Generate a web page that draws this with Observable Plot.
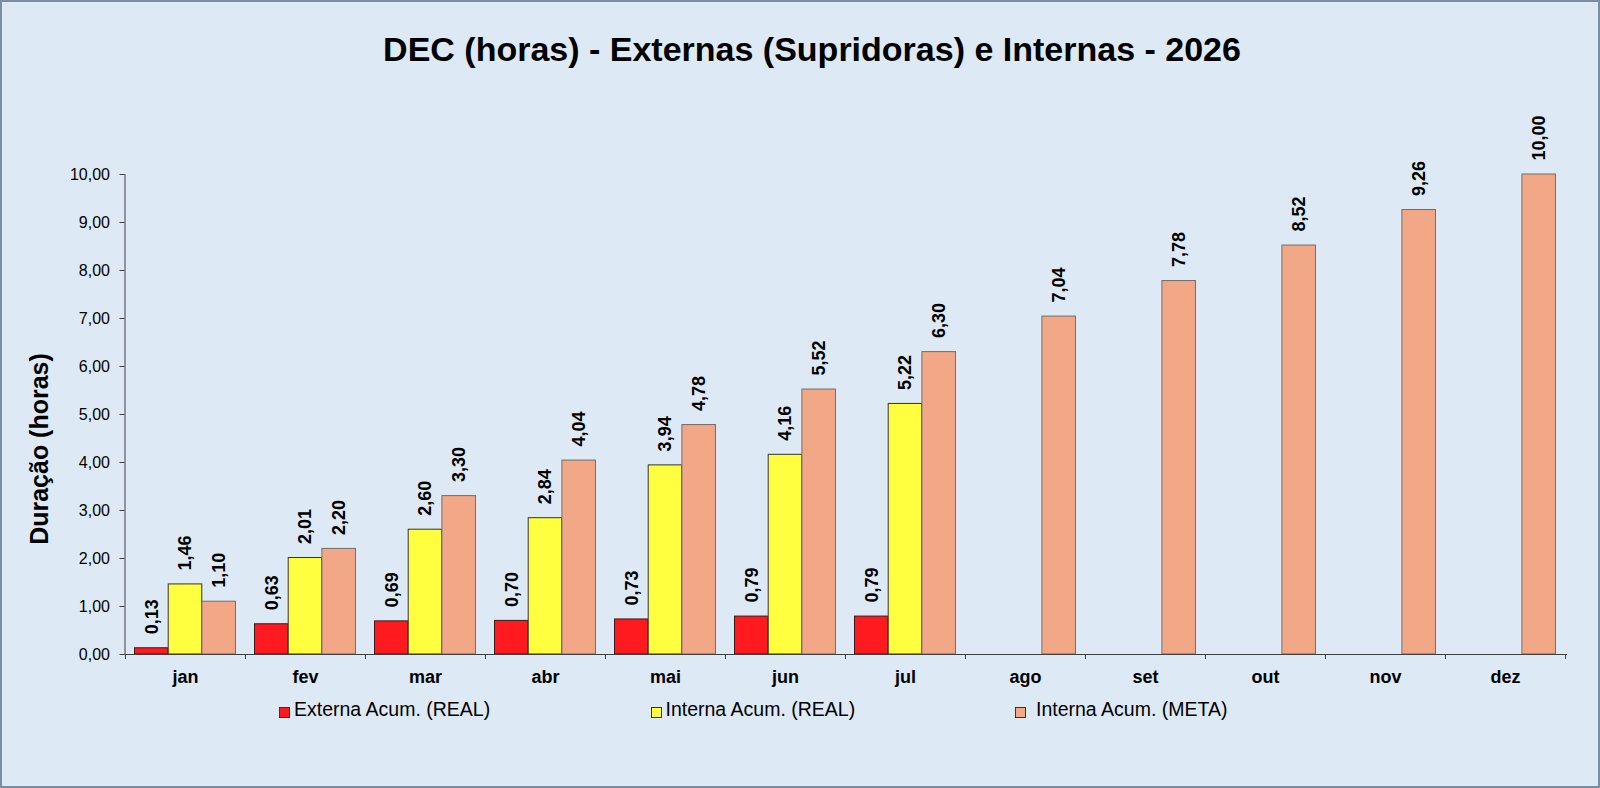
<!DOCTYPE html>
<html><head><meta charset="utf-8">
<script src="https://cdn.jsdelivr.net/npm/d3@7"></script>
<script src="https://cdn.jsdelivr.net/npm/@observablehq/plot@0.6"></script>
<style>
html,body{margin:0;padding:0;background:#dde9f5;}
#wrap{position:relative;width:1600px;height:788px;background:#dde9f5;box-shadow:inset 0 0 0 2px #7d8ea0;overflow:hidden;font-family:"Liberation Sans",Arial,sans-serif;color:#000;}
#title{position:absolute;left:812px;top:32px;transform:translateX(-50%);white-space:nowrap;font-size:34px;line-height:34px;font-weight:bold;}
#ytitle{position:absolute;left:38.5px;top:449px;width:320px;text-align:center;font-size:25px;line-height:25px;font-weight:bold;white-space:nowrap;transform:translate(-50%,-50%) rotate(-90deg);}
#chart{position:absolute;left:0;top:110px;}
.sw{position:absolute;width:9px;height:9px;top:707px;border:1px solid #333;box-sizing:content-box;}
.lt{position:absolute;top:700px;font-size:19.5px;line-height:19.5px;white-space:nowrap;}
</style>
</head><body>
<div id="wrap">
  <div id="title"></div>
  <div id="ytitle"></div>
  <div id="chart"></div>
  <div id="legend"></div>
</div>
<script>
const months = ["jan","fev","mar","abr","mai","jun","jul","ago","set","out","nov","dez"];
const seriesNames = ["Externa Acum. (REAL)", "Interna Acum. (REAL)", "Interna Acum. (META)"];
const externaReal = [0.13, 0.63, 0.69, 0.70, 0.73, 0.79, 0.79, null, null, null, null, null];
const internaReal = [1.46, 2.01, 2.60, 2.84, 3.94, 4.16, 5.22, null, null, null, null, null];
const internaMeta = [1.10, 2.20, 3.30, 4.04, 4.78, 5.52, 6.30, 7.04, 7.78, 8.52, 9.26, 10.00];
const yTicks = [0,1,2,3,4,5,6,7,8,9,10];
const titleText = "DEC (horas) - Externas (Supridoras) e Internas - 2026";
const yLabel = "Duração (horas)";

const colors = ["#ff1a1f", "#ffff40", "#f2a886"];
const strokes = ["#3a1a1a", "#333333", "#6e6e6e"];

document.getElementById("title").textContent = titleText;
document.getElementById("ytitle").textContent = yLabel;

const fmt = v => v.toFixed(2).replace(".", ",");
const rows = (arr) => months.map((m, i) => ({month: m, value: arr[i]})).filter(d => d.value != null);
const seriesData = [externaReal, internaReal, internaMeta].map(rows);

// bar placement within each month band (pixels)
const bw = 1441.5 / 12;
const barW = 33.7, lead = 9.5;
const insets = [0,1,2].map(k => ({insetLeft: lead + k*barW, insetRight: bw - (lead + (k+1)*barW)}));
const centers = [0,1,2].map(k => lead + (k+0.5)*barW - bw/2);

const marks = [];
seriesData.forEach((data, k) => {
  marks.push(Plot.barY(data, {x: "month", y: "value", fill: colors[k], stroke: strokes[k], strokeWidth: 1, ...insets[k]}));
});
seriesData.forEach((data, k) => {
  marks.push(Plot.text(data, {x: "month", y: "value", text: d => fmt(d.value), rotate: -90, textAnchor: "start", dx: centers[k], dy: -14, fontSize: 18, fontWeight: "bold", fill: "#000"}));
});
marks.push(Plot.frame({anchor: "left", stroke: "#404040"}));
marks.push(Plot.frame({anchor: "bottom", stroke: "#404040"}));
// band boundary ticks
marks.push(Plot.ruleX(months, {x: d => d, y1: 0, y2: 0, dx: -bw/2, insetBottom: -5, stroke: "#404040"}));
marks.push(Plot.ruleX(months.slice(-1), {x: d => d, y1: 0, y2: 0, dx: bw/2, insetBottom: -5, stroke: "#404040"}));
marks.push(Plot.axisY({ticks: yTicks, tickFormat: fmt, tickSize: 5, tickPadding: 10, fontSize: 16, stroke: "#404040", fill: "#000", label: null}));
marks.push(Plot.axisX({tickSize: 0, tickPadding: 16, fontSize: 18, fontWeight: "bold", fill: "#000", label: null}));

const chart = Plot.plot({
  width: 1600,
  height: 585,
  marginTop: 64,
  marginBottom: 41,
  marginLeft: 124.5,
  marginRight: 34,
  style: {background: "transparent", fontFamily: "'Liberation Sans', Arial, sans-serif", color: "#000"},
  x: {domain: months, paddingInner: 0, paddingOuter: 0, label: null},
  y: {domain: [0, 10], label: null},
  marks
});
document.getElementById("chart").appendChild(chart);

// legend
const legPos = [{sw: 279, tx: 294}, {sw: 650.5, tx: 665.5}, {sw: 1015, tx: 1036}];
const leg = document.getElementById("legend");
seriesNames.forEach((name, k) => {
  const s = document.createElement("div");
  s.className = "sw"; s.style.left = legPos[k].sw + "px"; s.style.background = colors[k];
  leg.appendChild(s);
  const t = document.createElement("div");
  t.className = "lt"; t.style.left = legPos[k].tx + "px"; t.textContent = name;
  leg.appendChild(t);
});
</script>
</body></html>
